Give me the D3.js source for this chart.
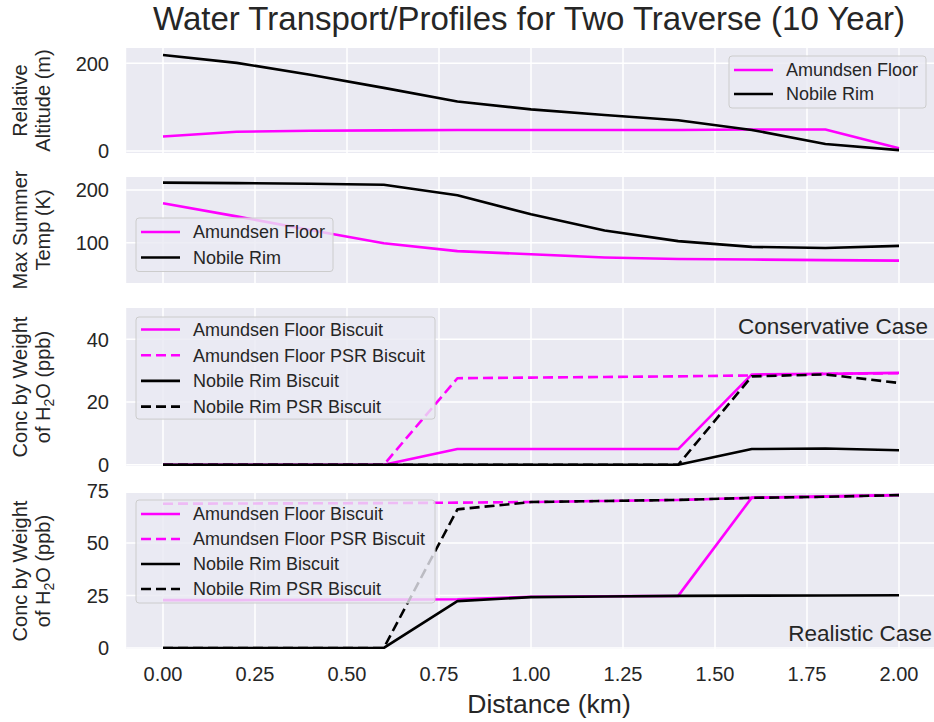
<!DOCTYPE html>
<html>
<head>
<meta charset="utf-8">
<script src="https://cdn.jsdelivr.net/npm/d3@7"></script>
<style>
  body { margin: 0; background: #fff; }
  svg { display: block; }
</style>
</head>
<body>
<div class="canvas"></div>
<script>
// distance along traverse (km)
var distance = [0, 0.2, 0.4, 0.6, 0.8, 1.0, 1.2, 1.4, 1.6, 1.8, 2.0];

// relative altitude (m)
var altFloor = [33, 44, 46, 47, 48, 48, 48, 48, 49, 49, 6];
var altRim   = [219, 201, 174, 144, 113, 95, 82, 70, 48, 16, 2];

// max summer temp (K)
var tempFloor = [175, 150, 124, 99, 84, 78, 72, 69, 68, 67, 66];
var tempRim   = [214, 213, 212, 210, 190, 154, 123, 103, 92, 90, 94];

// conservative case (ppb)
var consFloor    = [0, 0, 0, 0, 5, 5, 5, 5, 28.8, 29, 29.3];
var consFloorPSR = [0, 0, 0, 0, 27.6, 27.8, 28, 28.2, 28.5, 29, 29.2];
var consRim      = [0, 0, 0, 0, 0, 0, 0, 0, 5, 5.2, 4.6];
var consRimPSR   = [0, 0, 0, 0, 0, 0, 0, 0, 28.2, 28.8, 26.1];

// realistic case (ppb)
var realFloor    = [22.8, 22.8, 22.9, 23, 23.2, 24.4, 24.6, 24.8, 71.6, 72.2, 72.8];
var realFloorPSR = [68.7, 68.8, 68.9, 69, 69.2, 69.5, 70, 70.5, 71.5, 72, 72.8];
var realRim      = [0, 0, 0, 0, 22.3, 24.2, 24.5, 24.8, 24.9, 25, 25.1];
var realRimPSR   = [0, 0, 0, 0, 66, 69.5, 70, 70.5, 71.5, 72, 72.8];

var xTicks = [0, 0.25, 0.5, 0.75, 1.0, 1.25, 1.5, 1.75, 2.0];

var MAGENTA = "#ff00ff";
var BLACK = "#000000";
var TEXT = "#262626";
var FONT = "'Liberation Sans', Arial, Helvetica, sans-serif";

var svg = d3.select("body div.canvas").append("svg")
	.attr("width", 934)
	.attr("height", 722);

var x = d3.scaleLinear().domain([-0.1, 2.1]).range([126.2, 935.8]);

var panels = [
	{
		top: 48, bottom: 153, yDomain: [-4.6, 234.9], yTicks: [0, 200],
		ylabel: ["Relative", "Altitude (m)"],
		series: [
			{name: "Amundsen Floor", values: altFloor, color: MAGENTA, dash: null},
			{name: "Nobile Rim", values: altRim, color: BLACK, dash: null}
		],
		legend: {x: 729, y: 56, w: 197, row0: 70, step: 24}
	},
	{
		top: 177, bottom: 283, yDomain: [23.5, 224.7], yTicks: [100, 200],
		ylabel: ["Max Summer", "Temp (K)"],
		series: [
			{name: "Amundsen Floor", values: tempFloor, color: MAGENTA, dash: null},
			{name: "Nobile Rim", values: tempRim, color: BLACK, dash: null}
		],
		legend: {x: 136, y: 218, w: 197, row0: 232, step: 25.5}
	},
	{
		top: 308, bottom: 466, yDomain: [-0.4, 50], yTicks: [0, 20, 40],
		ylabel: ["Conc by Weight", "of H2O (ppb)"],
		series: [
			{name: "Amundsen Floor Biscuit", values: consFloor, color: MAGENTA, dash: null},
			{name: "Amundsen Floor PSR Biscuit", values: consFloorPSR, color: MAGENTA, dash: "10,5"},
			{name: "Nobile Rim Biscuit", values: consRim, color: BLACK, dash: null},
			{name: "Nobile Rim PSR Biscuit", values: consRimPSR, color: BLACK, dash: "10,5"}
		],
		legend: {x: 136, y: 317, w: 299, row0: 329.5, step: 25.7},
		note: {text: "Conservative Case", x: 928, y: 334}
	},
	{
		top: 493, bottom: 649, yDomain: [-0.5, 73.8], yTicks: [0, 25, 50, 75],
		ylabel: ["Conc by Weight", "of H2O (ppb)"],
		series: [
			{name: "Amundsen Floor Biscuit", values: realFloor, color: MAGENTA, dash: null},
			{name: "Amundsen Floor PSR Biscuit", values: realFloorPSR, color: MAGENTA, dash: "10,5"},
			{name: "Nobile Rim Biscuit", values: realRim, color: BLACK, dash: null},
			{name: "Nobile Rim PSR Biscuit", values: realRimPSR, color: BLACK, dash: "10,5"}
		],
		legend: {x: 136, y: 500, w: 299, row0: 514, step: 25},
		note: {text: "Realistic Case", x: 932, y: 641}
	}
];

// title
svg.append("text")
	.attr("x", 529)
	.attr("y", 30)
	.attr("text-anchor", "middle")
	.style("font-family", FONT)
	.style("font-size", "33px")
	.style("fill", TEXT)
	.text("Water Transport/Profiles for Two Traverse (10 Year)");

panels.forEach(function(p, pi) {
	var y = d3.scaleLinear().domain(p.yDomain).range([p.bottom, p.top]);
	var g = svg.append("g");

	g.append("clipPath").attr("id", "clip" + pi)
		.append("rect")
		.attr("x", x.range()[0]).attr("y", p.top)
		.attr("width", x.range()[1] - x.range()[0])
		.attr("height", p.bottom - p.top);

	// background
	g.append("rect")
		.attr("x", x.range()[0]).attr("y", p.top)
		.attr("width", x.range()[1] - x.range()[0])
		.attr("height", p.bottom - p.top)
		.attr("fill", "#eaeaf2");

	// grid
	g.selectAll("line.vgrid").data(xTicks).enter().append("line")
		.attr("x1", function(d) { return x(d); })
		.attr("x2", function(d) { return x(d); })
		.attr("y1", p.top).attr("y2", p.bottom)
		.attr("stroke", "#fff").attr("stroke-width", 1.5);
	g.selectAll("line.hgrid").data(p.yTicks.filter(function(t) {
			return y(t) > p.top + 0.5 && y(t) < p.bottom - 0.5;
		})).enter().append("line")
		.attr("x1", x.range()[0]).attr("x2", x.range()[1])
		.attr("y1", function(d) { return y(d); })
		.attr("y2", function(d) { return y(d); })
		.attr("stroke", "#fff").attr("stroke-width", 1.5);

	// y tick labels
	g.selectAll("text.ytick").data(p.yTicks).enter().append("text")
		.attr("x", 109)
		.attr("y", function(d) { return y(d); })
		.attr("dy", "0.36em")
		.attr("text-anchor", "end")
		.style("font-family", FONT)
		.style("font-size", "20px")
		.style("fill", TEXT)
		.text(function(d) { return d; });

	// y label, two lines rotated
	var cy = (p.top + p.bottom) / 2;
	p.ylabel.forEach(function(line, li) {
		var bx = li == 0 ? 27 : 50;
		var t = g.append("text")
			.attr("transform", "translate(" + bx + "," + cy + ") rotate(-90)")
			.attr("text-anchor", "middle")
			.style("font-family", FONT)
			.style("font-size", "20px")
			.style("fill", TEXT);
		if (line.indexOf("H2O") >= 0) {
			t.append("tspan").text("of H");
			t.append("tspan").text("2").style("font-size", "14px").attr("dy", 4);
			t.append("tspan").text("O (ppb)").attr("dy", -4);
		} else {
			t.text(line);
		}
	});

	// series lines
	var lineGen = d3.line()
		.x(function(d, i) { return x(distance[i]); })
		.y(function(d) { return y(d); });
	var lines = g.append("g").attr("clip-path", "url(#clip" + pi + ")");
	p.series.forEach(function(s) {
		lines.append("path")
			.attr("d", lineGen(s.values))
			.attr("fill", "none")
			.attr("stroke", s.color)
			.attr("stroke-width", 2.6)
			.attr("stroke-dasharray", s.dash)
			.attr("stroke-linejoin", "round");
	});

	// legend
	var L = p.legend;
	var h = (p.series.length - 1) * L.step + 2 * (L.row0 - L.y);
	g.append("rect")
		.attr("x", L.x).attr("y", L.y)
		.attr("width", L.w).attr("height", h)
		.attr("rx", 3)
		.attr("fill", "#eaeaf2").attr("fill-opacity", 0.8)
		.attr("stroke", "#cccccc").attr("stroke-width", 1);
	p.series.forEach(function(s, si) {
		var ry = L.row0 + si * L.step;
		g.append("line")
			.attr("x1", L.x + 5).attr("x2", L.x + 44)
			.attr("y1", ry).attr("y2", ry)
			.attr("stroke", s.color).attr("stroke-width", 2.6)
			.attr("stroke-dasharray", s.dash);
		g.append("text")
			.attr("x", L.x + 57).attr("y", ry)
			.attr("dy", "0.36em")
			.style("font-family", FONT)
			.style("font-size", "18px")
			.style("fill", TEXT)
			.text(s.name);
	});

	if (p.note) {
		g.append("text")
			.attr("x", p.note.x).attr("y", p.note.y)
			.attr("text-anchor", "end")
			.style("font-family", FONT)
			.style("font-size", "22.5px")
			.style("fill", TEXT)
			.text(p.note.text);
	}
});

// x tick labels, bottom panel only
svg.selectAll("text.xtick").data(xTicks).enter().append("text")
	.attr("x", function(d) { return x(d); })
	.attr("y", 681)
	.attr("text-anchor", "middle")
	.style("font-family", FONT)
	.style("font-size", "20px")
	.style("fill", TEXT)
	.text(function(d) { return d3.format(".2f")(d); });

svg.append("text")
	.attr("x", 549)
	.attr("y", 713)
	.attr("text-anchor", "middle")
	.style("font-family", FONT)
	.style("font-size", "26.5px")
	.style("fill", TEXT)
	.text("Distance (km)");
</script>
</body>
</html>
